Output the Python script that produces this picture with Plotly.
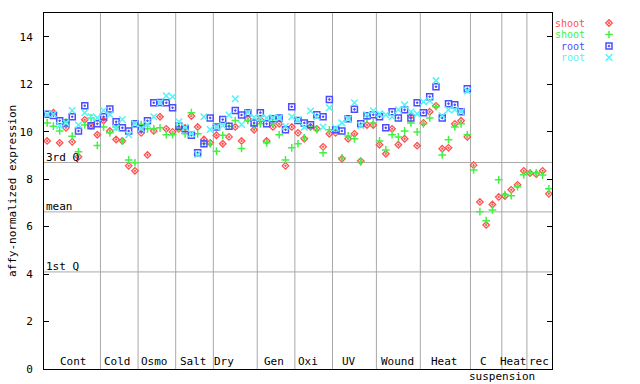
import plotly.graph_objects as go

# ---------------- data ----------------
groups = ["Cont", "Cold", "Osmo", "Salt", "Dry", "Gen", "Oxi", "UV", "Wound",
          "Heat", "C suspension", "Heat", "rec"]
group_sizes = [9, 6, 6, 6, 7, 6, 6, 7, 7, 8, 5, 4, 4]

shoot_1 = [9.61, 10.80, 9.53, 10.16, 9.57, 8.94, 10.50, 10.25, 9.87,
           10.47, 10.03, 9.67, 9.61, 8.56, 8.35,
           9.95, 9.02, 10.03, 10.63, 10.12, 9.99,
           10.12, 10.16, 10.66, 10.20, 9.67, 9.53,
           9.85, 9.49, 9.78, 10.20, 9.61, 10.54, 10.08,
           10.50, 9.61, 10.20, 10.33, 8.56, 10.20,
           9.95, 9.70, 10.20, 10.12, 9.36, 9.91,
           9.95, 8.86, 9.70, 9.91, 8.76, 10.28, 10.28,
           9.45, 9.07, 10.12, 9.45, 9.70, 10.67, 9.41,
           10.37, 10.84, 11.09, 9.28, 9.32, 10.33, 10.46, 9.78,
           8.59, 7.04, 6.07, 6.93, 7.25,
           7.29, 7.55, 7.76, 8.35,
           8.25, 8.21, 8.35, 7.38]

shoot_2 = [10.37, 10.23, 10.03, 10.40, 9.81, 9.15, 10.28, 10.58, 9.42,
           10.20, 9.95, 10.20, 9.60, 8.81, 8.69,
           10.30, 10.12, 10.12, 10.16, 9.87, 9.87,
           10.16, 9.91, 10.80, 9.91, 9.49, 9.49,
           9.18, 9.85, 10.23, 10.47, 9.29, 10.47, 10.26,
           10.33, 9.53, 10.33, 9.87, 8.81, 9.32,
           9.49, 9.74, 10.20, 10.08, 9.11, 10.08,
           10.08, 8.90, 9.82, 9.70, 8.73, 10.54, 10.37,
           9.61, 9.23, 9.87, 9.78, 10.03, 10.37, 9.99,
           10.33, 10.58, 11.05, 9.02, 9.66, 10.20, 10.33, 9.87,
           8.39, 6.63, 6.25, 6.70, 7.97,
           7.35, 7.30, 7.68, 8.18,
           8.27, 8.27, 8.17, 7.59]

root_1 = [10.73, 10.68, 10.46, 10.37, 10.63, 10.03, 11.09, 10.25, 10.33,
          10.63, 10.96, 10.42, 10.16, 10.03, 10.33,
          10.12, 10.46, 11.22, 11.23, 11.22, 11.01,
          10.23, 10.12, 9.85, 9.11, 9.49, 10.58,
          10.20, 10.51, 10.23, 10.89, 10.70, 10.80, 10.37,
          10.80, 10.33, 10.54, 10.58, 10.08, 11.05,
          10.47, 10.37, 10.29, 10.71, 10.63, 11.36,
          10.08, 10.03, 10.54, 10.94, 10.33, 10.67, 10.71,
          10.63, 10.16, 10.84, 10.58, 10.92, 10.58, 11.22,
          10.80, 11.47, 11.89, 10.58, 11.18, 11.13, 10.84, 11.81]

root_2 = [10.73, 10.73, 10.26, 10.37, 10.89, 10.28, 10.80, 10.63, 10.58,
          10.89, 10.71, 10.16, 10.51, 9.87, 10.33,
          10.12, 10.30, 10.63, 11.22, 11.51, 11.47,
          10.42, 10.18, 9.91, 9.04, 10.63, 10.09,
          10.20, 10.26, 10.70, 11.39, 10.30, 10.80, 10.61,
          10.58, 10.58, 10.58, 10.58, 10.23, 10.63,
          10.50, 10.19, 10.87, 10.63, 10.20, 11.01,
          10.16, 10.37, 10.54, 11.22, 10.26, 10.71, 10.88,
          10.75, 10.71, 10.63, 10.92, 11.13, 10.84, 10.75,
          11.26, 11.30, 12.15, 10.67, 10.92, 10.92, 10.84, 11.72]

y_ticks = [0, 2, 4, 6, 8, 10, 12, 14]
quartile_names = ["3rd Q", "mean", "1st Q"]
quartile_values = [8.70, 6.62, 4.09]
legend_names = ["shoot", "shoot", "root", "root"]

# ---------------- layout constants ----------------
W, H = 640, 384
ML, MT, MB = 44, 13, 15
PLOT_RIGHT = 552                 # right edge of the data area, px
FONT = "DejaVu Sans Mono"
RED, GREEN, BLUE, CYAN = "#ff5050", "#45f045", "#4d4dff", "#50f5f5"
GRID = "#a8a8a8"
group_label_x = [5.28, 12.25, 18.16, 24.26, 29.2, 37.2, 42.6, 49.1, 56.9,
                 64.3, 70.5, 75.3, 79.5]
sub_label_x = 73.55

n = sum(group_sizes)
xs = list(range(1, n + 1))
XMIN, XMAX = 0.5, n + 0.5
YMIN, YMAX = 0, 15
paper_w = W - ML                 # right margin 0, legend lives in its own axis
main_frac = (PLOT_RIGHT - ML) / paper_w


def pad(v):
    return list(v) + [None] * (n - len(v))


styles = [
    (shoot_1, RED, "diamond-open-dot", 5, 1.3),
    (shoot_2, GREEN, "cross-thin-open", 5.5, 1.5),
    (root_1, BLUE, "square-open-dot", 6, 1.5),
    (root_2, CYAN, "x-thin-open", 6.5, 1.5),
]

fig = go.Figure()
for (vals, col, sym, size, lw), name in zip(styles, legend_names):
    fig.add_trace(go.Scatter(
        x=xs, y=pad(vals), mode="markers", name=name, showlegend=False,
        marker=dict(symbol=sym, size=size, color=col,
                    line=dict(color=col, width=lw)),
        cliponaxis=False,
    ))

# legend (text left, symbol right) in a pixel-scaled side axis
leg_text_px = 586
leg_mark_px = 609
leg_row_px = [23, 34.5, 46, 57.5]
for (vals, col, sym, size, lw), name, rp in zip(styles, legend_names, leg_row_px):
    fig.add_trace(go.Scatter(
        x=[leg_mark_px], y=[rp], xaxis="x2", yaxis="y2",
        mode="markers", showlegend=False, hoverinfo="skip",
        marker=dict(symbol=sym, size=size, color=col,
                    line=dict(color=col, width=lw)),
        cliponaxis=False,
    ))
    fig.add_annotation(
        xref="x2", yref="y2", x=leg_text_px, y=rp,
        text=name, showarrow=False, xanchor="right", yanchor="middle",
        borderpad=0,
        font=dict(family=FONT, size=10, color=col),
    )

shapes = []
# quartile lines
for qn, qv in zip(quartile_names, quartile_values):
    shapes.append(dict(type="line", xref="x", yref="y", x0=XMIN, x1=XMAX,
                       y0=qv, y1=qv, line=dict(color=GRID, width=1),
                       layer="below"))
    fig.add_annotation(xref="paper", yref="y", x=0, y=qv, text=qn,
                       showarrow=False, xanchor="left", yanchor="bottom",
                       yshift=-3,
                       font=dict(family=FONT, size=11, color="black"))
# group separators
cum = 0
for s in group_sizes[:-1]:
    cum += s
    shapes.append(dict(type="line", xref="x", yref="y", x0=cum + 0.5,
                       x1=cum + 0.5, y0=YMIN, y1=YMAX,
                       line=dict(color=GRID, width=1), layer="below"))

# group labels
for g, gx in zip(groups, group_label_x):
    parts = g.split(" ")
    fig.add_annotation(xref="x", yref="paper", x=gx, y=0, text=parts[0],
                       showarrow=False, xanchor="center", yanchor="bottom",
                       yshift=-1,
                       font=dict(family=FONT, size=11, color="black"))
    if len(parts) > 1:
        fig.add_annotation(xref="x", yref="paper", x=sub_label_x, y=0,
                           text=" ".join(parts[1:]), showarrow=False,
                           xanchor="center", yanchor="top", yshift=1,
                           font=dict(family=FONT, size=11, color="black"))

# y-axis title
fig.add_annotation(xref="paper", yref="paper", x=(12 - ML) / paper_w, y=0.5,
                   text="affy-normalized expression", textangle=-90,
                   showarrow=False, xanchor="center", yanchor="middle",
                   font=dict(family=FONT, size=11, color="black"))

fig.update_layout(
    width=W, height=H,
    margin=dict(l=ML, r=0, t=MT, b=MB, pad=0),
    paper_bgcolor="white", plot_bgcolor="white",
    shapes=shapes,
    font=dict(family=FONT, size=11, color="black"),
    xaxis=dict(domain=[0, main_frac], range=[XMIN, XMAX],
               showticklabels=False, ticks="",
               showgrid=False, zeroline=False, showline=True,
               linecolor="black", linewidth=1, mirror=True),
    yaxis=dict(range=[YMIN, YMAX], tickvals=y_ticks, ticks="inside",
               ticklen=5, tickcolor="black", showgrid=False, zeroline=False,
               showline=True, linecolor="black", linewidth=1,
               mirror="ticks", ticklabelstandoff=8,
               tickfont=dict(family=FONT, size=11, color="black")),
    xaxis2=dict(domain=[main_frac, 1], range=[PLOT_RIGHT, W], visible=False,
                anchor="y2", fixedrange=True),
    yaxis2=dict(domain=[0, 1], range=[H - MB, MT], visible=False,
                anchor="x2", fixedrange=True),
)

fig.write_html(
    "out.html",
    config={"displayModeBar": False},
    post_script="document.body.style.margin='0';document.body.style.padding='0';",
)
